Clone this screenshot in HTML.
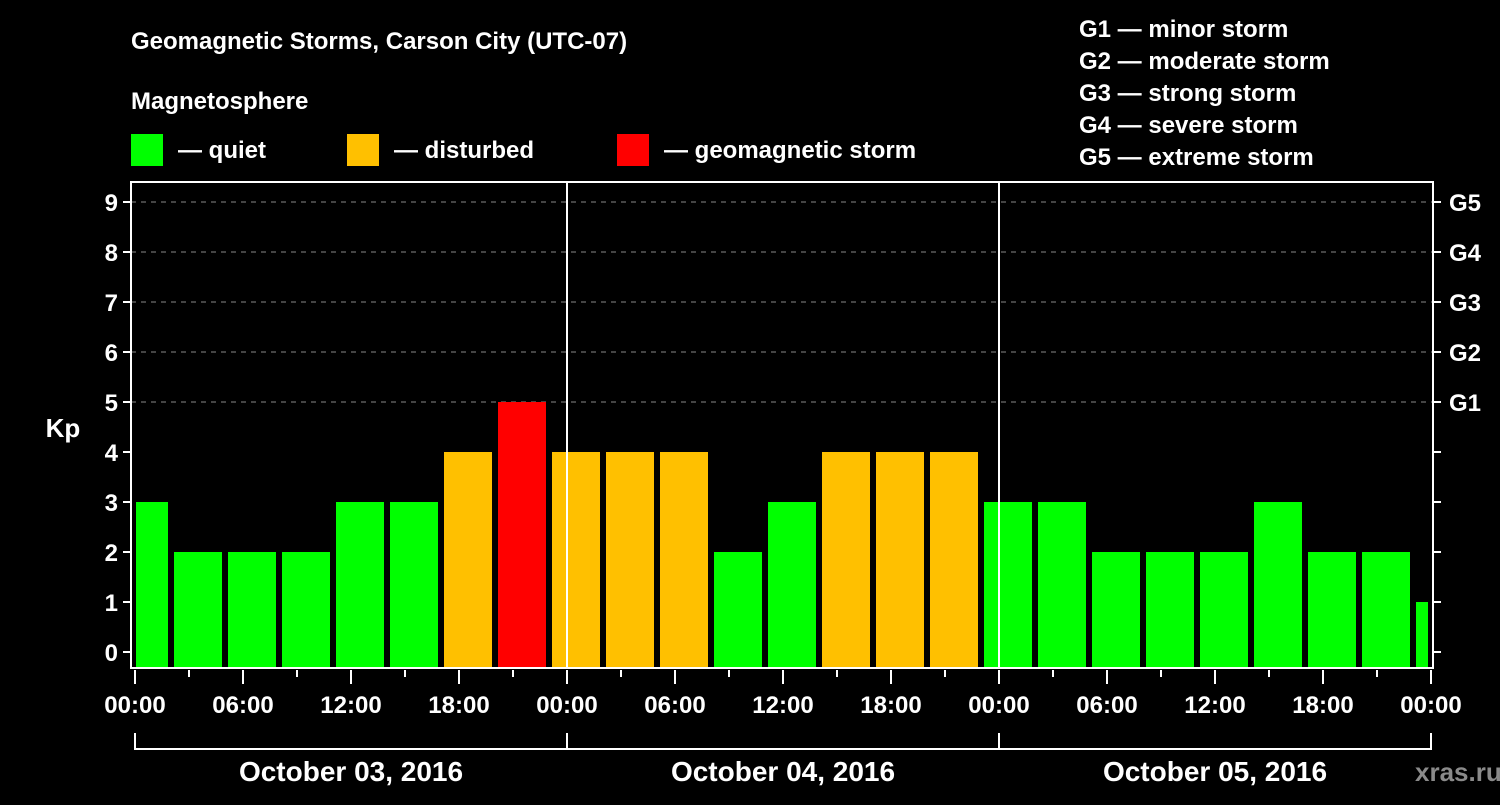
<!DOCTYPE html>
<html><head><meta charset="utf-8"><style>
body{margin:0;background:#000;width:1500px;height:800px;overflow:hidden}
svg text{font-family:"Liberation Sans",sans-serif;font-weight:bold;fill:#fff}
</style></head><body>
<svg id="c" width="1500" height="800">
<text x="131" y="49" font-size="24">Geomagnetic Storms, Carson City (UTC-07)</text>
<text x="131" y="109" font-size="24">Magnetosphere</text>
<g><rect x="131" y="134" width="32" height="32" fill="#00ff00"/><text x="178" y="158" font-size="24">— quiet</text></g>
<g><rect x="347" y="134" width="32" height="32" fill="#ffc000"/><text x="394" y="158" font-size="24">— disturbed</text></g>
<g><rect x="617" y="134" width="32" height="32" fill="#ff0000"/><text x="664" y="158" font-size="24">— geomagnetic storm</text></g>
<g font-size="24">
<text x="1079" y="37">G1 — minor storm</text>
<text x="1079" y="69">G2 — moderate storm</text>
<text x="1079" y="101">G3 — strong storm</text>
<text x="1079" y="133">G4 — severe storm</text>
<text x="1079" y="165">G5 — extreme storm</text>
</g>
<text x="63" y="437" font-size="26" text-anchor="middle">Kp</text>
<text x="1415" y="781" font-size="26" fill="#888" style="fill:#8a8a8a">xras.ru</text>
<g id="g"></g>
</svg>
<script>
const kpValues=[3,2,2,2,3,3,4,5,4,4,4,2,3,4,4,4,3,3,2,2,2,3,2,2,1];
const hourLabels=["00:00","06:00","12:00","18:00"];
const dayLabels=["October 03, 2016","October 04, 2016","October 05, 2016"];
const gLabels=["G1","G2","G3","G4","G5"];
const kpTicks=[0,1,2,3,4,5,6,7,8,9];
const firstBarHour=-1, barHours=3, totalHours=72;
const L=131,R=1433,T=182,B=668,X0=135,PXH=18;
const x=h=>X0+h*PXH, y=v=>652-v*50;
const ns="http://www.w3.org/2000/svg", g=document.getElementById('g');
function mk(t,a,txt){const e=document.createElementNS(ns,t);for(const k in a)e.setAttribute(k,a[k]);if(txt!=null)e.textContent=txt;g.appendChild(e);return e;}
kpTicks.forEach(v=>{
 if(v>=5){const d=mk('line',{x1:L,x2:R,y1:y(v),y2:y(v),stroke:'#888','stroke-dasharray':'5,5','stroke-width':1});
 
 }
 const t1=mk('line',{x1:L-8,x2:L,y1:y(v),y2:y(v),stroke:'#fff','stroke-width':2});
 
 
 const t2=mk('line',{x1:R,x2:R+8,y1:y(v),y2:y(v),stroke:'#fff','stroke-width':2});
 
 
 const lb=mk('text',{x:L-13,y:y(v)+9,'font-size':24,'text-anchor':'end'},String(v));
 
 
});
gLabels.forEach((s,i)=>{const t=mk('text',{x:R+16,y:y(5+i)+9,'font-size':24},s);
 
 });
kpValues.forEach((v,i)=>{
 let h0=Math.max(firstBarHour+i*barHours,0),h1=Math.min(firstBarHour+(i+1)*barHours,totalHours);
 const x0=x(h0)+(h0===0?1:3), x1=x(h1)-3;
 const c=v>=5?'#ff0000':v>=4?'#ffc000':'#00ff00';
 const r=mk('rect',{x:x0,y:y(v),width:x1-x0,height:B-1-y(v),fill:c});
 
 
});
[24,48].forEach(h=>{const l=mk('line',{x1:x(h),x2:x(h),y1:T,y2:B,stroke:'#fff','stroke-width':2});
 
 });
const f=mk('rect',{x:L,y:T,width:R-L,height:B-T,fill:'none',stroke:'#fff','stroke-width':2});


for(let h=0;h<=totalHours;h+=3){
 const lng=h%6===0;
 const t=mk('line',{x1:x(h),x2:x(h),y1:B+2,y2:B+(lng?16:9),stroke:'#fff','stroke-width':2});
 
 
 if(lng){const lb=mk('text',{x:x(h),y:713,'font-size':24,'text-anchor':'middle'},hourLabels[(h/6)%4]);
 
 }
}
const br=mk('polyline',{points:'',fill:'none',stroke:'#fff','stroke-width':2});
br.setAttribute('points',[0,24,48,72].map(h=>'').join('')||'');
br.remove();
const bl=mk('line',{x1:x(0),x2:x(72),y1:749,y2:749,stroke:'#fff','stroke-width':2});


[0,24,48,72].forEach(h=>{const l=mk('line',{x1:x(h),x2:x(h),y1:733,y2:750,stroke:'#fff','stroke-width':2});
 
 });
dayLabels.forEach((d,i)=>{const t=mk('text',{x:x(i*24+12),y:781,'font-size':28,'text-anchor':'middle'},d);
 
 });
</script>
</body></html>
